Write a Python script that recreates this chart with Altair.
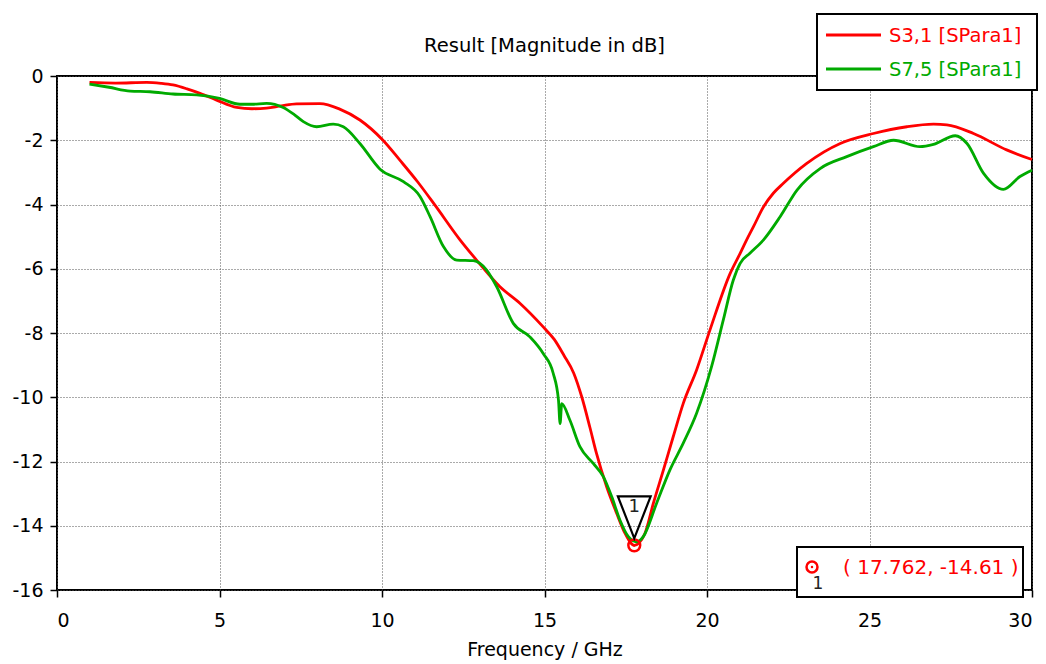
import altair as alt
import pandas as pd

series_names = ["S3,1 [SPara1]", "S7,5 [SPara1]"]
series_colors = ["#ff0000", "#00aa00"]

red_x = [1.0, 1.8, 2.76, 3.2, 3.57, 4.0, 4.4, 4.91, 5.53, 6.0, 6.45, 6.9, 7.37, 8.09, 8.7,
         9.32, 10.03, 10.55, 11.1, 11.63, 12.4, 12.91, 13.63, 14.25, 14.96, 15.3, 15.6,
         15.9, 16.15, 16.4, 16.6, 16.91, 17.22, 17.48, 17.762, 18.09, 18.35, 18.66, 18.96,
         19.27, 19.68, 20.09, 20.71, 21.02, 21.22, 21.43, 21.74, 22.04, 22.35, 23.07, 24.1,
         25.12, 26.15, 26.97, 27.38, 28.2, 29.22, 30.0]
red_y = [-0.20, -0.22, -0.20, -0.23, -0.28, -0.40, -0.54, -0.75, -0.98, -1.02, -1.00, -0.93,
         -0.87, -0.86, -1.03, -1.37, -2.00, -2.62, -3.30, -4.02, -5.10, -5.73, -6.56, -7.08,
         -7.81, -8.20, -8.70, -9.25, -10.00, -10.95, -11.75, -12.78, -13.61, -14.24, -14.61,
         -14.24, -13.30, -12.26, -11.23, -10.19, -9.15, -7.91, -6.15, -5.52, -5.10, -4.69,
         -4.07, -3.65, -3.34, -2.72, -2.10, -1.79, -1.58, -1.50, -1.52, -1.79, -2.30, -2.60]

green_x = [1.0, 1.6, 2.25, 2.86, 3.57, 4.3, 5.0, 5.63, 6.0, 6.45, 6.96, 7.3, 7.58, 7.99, 8.5,
           8.81, 9.32, 9.94, 10.66, 11.17, 11.48, 11.89, 12.3, 12.81, 13.22, 13.53, 14.04,
           14.55, 14.96, 15.27, 15.43, 15.48, 15.53, 15.78, 16.09, 16.5, 16.81, 17.07, 17.32,
           17.58, 17.84, 18.04, 18.45, 18.86, 19.27, 19.68, 20.14, 20.5, 20.81, 21.02, 21.32,
           21.74, 22.25, 22.77, 23.48, 24.3, 25.12, 25.74, 26.55, 26.97, 27.64, 28.0, 28.51,
           29.12, 29.63, 30.0]
green_y = [-0.25, -0.35, -0.47, -0.49, -0.56, -0.59, -0.70, -0.88, -0.88, -0.85, -0.98, -1.20,
           -1.42, -1.58, -1.50, -1.58, -2.10, -2.90, -3.29, -3.75, -4.38, -5.31, -5.73, -5.75,
           -6.04, -6.56, -7.70, -8.12, -8.64, -9.26, -10.09, -10.82, -10.20, -10.71, -11.54,
           -12.06, -12.47, -13.10, -13.82, -14.34, -14.50, -14.34, -13.30, -12.26, -11.43,
           -10.50, -9.05, -7.60, -6.35, -5.83, -5.52, -5.10, -4.38, -3.55, -2.88, -2.51, -2.20,
           -2.00, -2.20, -2.13, -1.86, -2.10, -3.03, -3.53, -3.13, -2.93]

marker_x = [17.762]
marker_y = [-14.61]
marker_label = ["1"]

x_ticks = [0, 5, 10, 15, 20, 25, 30]
y_ticks = [0, -2, -4, -6, -8, -10, -12, -14, -16]

chart_title = "Result [Magnitude in dB]"
x_title = "Frequency / GHz"

FONT = "DejaVu Sans"

df = pd.concat([
    pd.DataFrame({"freq": red_x, "db": red_y, "series": series_names[0]}),
    pd.DataFrame({"freq": green_x, "db": green_y, "series": series_names[1]}),
])
dm = pd.DataFrame({"freq": marker_x, "db": marker_y, "label": marker_label})
one = pd.DataFrame({"t": [chart_title]})

xenc = alt.X("freq:Q", scale=alt.Scale(domain=[0, 30], nice=False),
             axis=alt.Axis(values=x_ticks, title=x_title, labelExpr="'' + datum.value",
                           tickSize=7, labelPadding=14, titlePadding=10))
yenc = alt.Y("db:Q", scale=alt.Scale(domain=[-16, 0], nice=False),
             axis=alt.Axis(values=y_ticks, title=None, labelExpr="'' + datum.value",
                           tickSize=7, labelPadding=7))

lines = alt.Chart(df).mark_line(strokeWidth=2.8, interpolate="monotone").encode(
    x=xenc, y=yenc,
    color=alt.Color("series:N", scale=alt.Scale(domain=series_names, range=series_colors), legend=None),
)

base_m = alt.Chart(dm).encode(x=alt.X("freq:Q"), y=alt.Y("db:Q"))
circle = base_m.mark_point(shape="circle", size=140, filled=False, stroke="#ff0000", strokeWidth=2.5, opacity=1)
dot = base_m.mark_point(shape="circle", size=7, filled=True, color="#ff0000", opacity=1)
tri = base_m.mark_point(shape="M-0.78,-1L0.78,-1L0,1Z", size=1764, filled=False, stroke="black",
                        strokeWidth=2.2, yOffset=-28, opacity=1)
tri_text = base_m.mark_text(yOffset=-38, fontSize=18, font=FONT, color="#222222").encode(text="label:N")

# marker read-out box
box = alt.Chart(dm).mark_rect(fill="white", stroke="black", strokeWidth=2).encode(
    x=alt.value(740), x2=alt.value(966), y=alt.value(471), y2=alt.value(521))
box_icon = alt.Chart(dm).mark_point(shape="circle", size=120, filled=False, stroke="#ff0000",
                                    strokeWidth=2.5, opacity=1).encode(x=alt.value(755), y=alt.value(491))
box_dot = alt.Chart(dm).mark_point(shape="circle", size=6, filled=True, color="#ff0000",
                                   opacity=1).encode(x=alt.value(755), y=alt.value(491))
box_num = alt.Chart(dm).mark_text(fontSize=17, font=FONT, color="#222222").encode(
    x=alt.value(761), y=alt.value(508), text="label:N")
box_text = alt.Chart(dm).transform_calculate(
    txt="'( ' + datum.freq + ', ' + datum.db + ' )'"
).mark_text(fontSize=20, font=FONT, color="#ff0000", align="left", baseline="middle").encode(
    x=alt.value(786), y=alt.value(492), text="txt:N")

# title
title = alt.Chart(one).mark_text(fontSize=19.5, font=FONT, color="black", align="center",
                                 baseline="alphabetic").encode(
    x=alt.value(487.5), y=alt.value(-24), text="t:N")

# legend box
leg_df = pd.DataFrame({"series": series_names})
legend_layers = [
    alt.Chart(leg_df).mark_rect(fill="white", stroke="black", strokeWidth=2).encode(
        x=alt.value(760), x2=alt.value(980), y=alt.value(-62), y2=alt.value(14))
]
for i, (name, col) in enumerate(zip(series_names, series_colors)):
    sub = pd.DataFrame({"series": [name]})
    yy = -41 + 34 * i
    legend_layers.append(
        alt.Chart(sub).mark_rule(color=col, strokeWidth=2.8).encode(
            x=alt.value(769), x2=alt.value(824), y=alt.value(yy)))
    legend_layers.append(
        alt.Chart(sub).mark_text(fontSize=19.5, font=FONT, color=col, align="left", baseline="middle").encode(
            x=alt.value(832), y=alt.value(yy + 1), text="series:N"))

chart = alt.layer(lines, circle, dot, tri, tri_text, box, box_icon, box_dot, box_num, box_text,
                  title, *legend_layers).properties(
    width=975, height=514,
    autosize=alt.AutoSizeParams(type="none"),
    padding={"left": 57, "top": 76, "right": 14, "bottom": 74},
).configure_view(
    stroke="black", strokeWidth=2
).configure_axis(
    domain=False, grid=True, gridColor="#555555", gridDash=[1, 2], gridWidth=1,
    tickColor="black", tickWidth=1.5, labelFont=FONT, labelFontSize=19, labelColor="black",
    titleFont=FONT, titleFontSize=19, titleFontWeight="normal", titleColor="black",
)

chart.save("out.html", embed_options={"renderer": "svg", "actions": False})
